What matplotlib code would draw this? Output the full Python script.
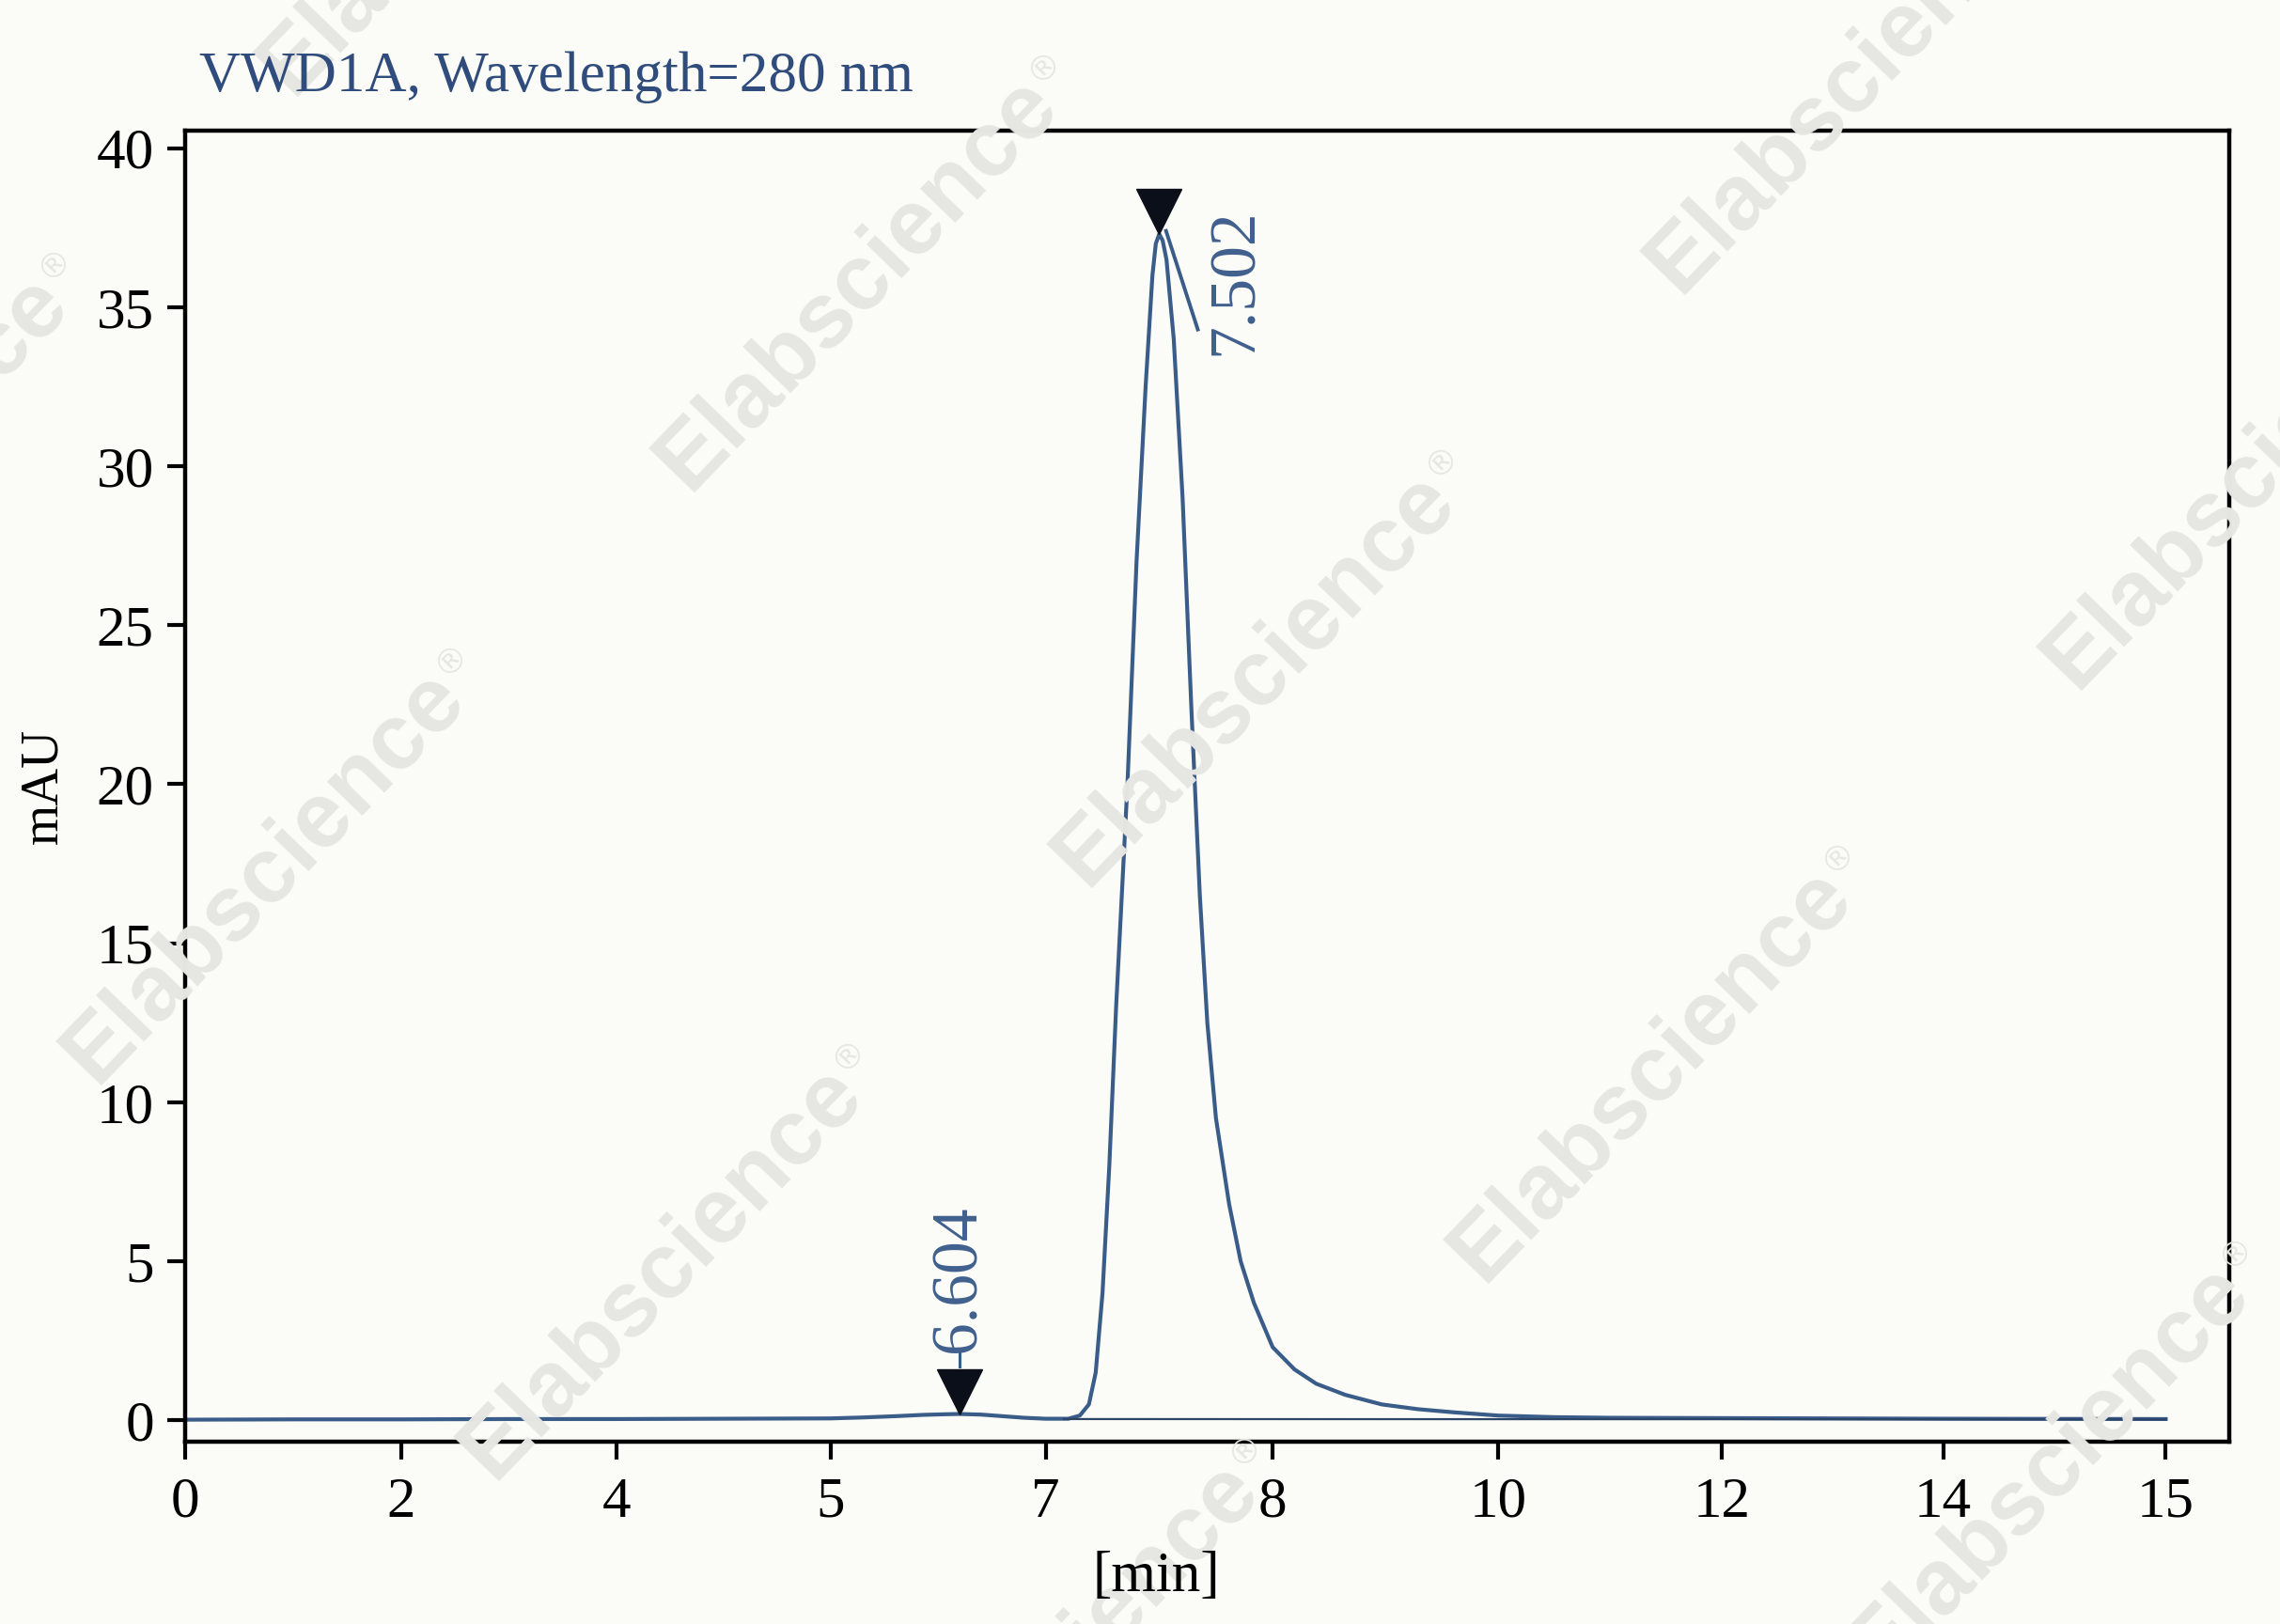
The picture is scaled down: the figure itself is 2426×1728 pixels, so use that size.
import numpy as np
import matplotlib.pyplot as plt
from matplotlib.transforms import ScaledTranslation, offset_copy

# chromatogram trace (time in the axis' own minute labels, mAU)
time = [0.0, 1.0, 2.0, 3.0, 4.0, 4.5, 5.0, 5.3, 5.6, 5.85, 6.05, 6.2, 6.4, 6.6,
        6.8, 7.0, 7.1, 7.15, 7.19, 7.22, 7.25, 7.28, 7.31, 7.36, 7.40, 7.44,
        7.47, 7.485, 7.50, 7.515, 7.532, 7.564, 7.603, 7.641, 7.679, 7.712,
        7.75, 7.808, 7.859, 7.917, 8.0, 8.194, 8.387, 8.645, 8.968, 9.29,
        9.613, 10.0, 10.5, 11.0, 12.0, 13.0, 14.0, 15.0]
mau = [0.02, 0.03, 0.03, 0.04, 0.04, 0.05, 0.06, 0.09, 0.13, 0.17, 0.19, 0.2,
       0.18, 0.13, 0.08, 0.05, 0.05, 0.15, 0.5, 1.5, 4.0, 8.0, 13.0, 20.0,
       27.0, 32.5, 36.0, 37.0, 37.3, 37.1, 36.5, 34.0, 29.0, 22.5, 16.5, 12.5,
       9.5, 6.8, 5.0, 3.7, 2.3, 1.6, 1.15, 0.8, 0.5, 0.35, 0.25, 0.15, 0.1,
       0.08, 0.07, 0.06, 0.05, 0.04]

# integration baseline under the main peak
base_time = [7.08, 15.0]
base_mau = [0.04, 0.03]

# peak markers and their labels
peak_time = [6.2, 7.5]
peak_mau = [0.2, 37.3]
peak_text = ["6.604", "7.502"]

# the axis labels are unevenly spaced on the original print
xtick_vals = [0, 2, 4, 5, 7, 8, 10, 12, 14, 15]
xtick_pos = [0, 1.641, 3.271, 4.890, 6.520, 8.238, 9.945, 11.64, 13.315, 15.0]
yticks = [0, 5, 10, 15, 20, 25, 30, 35, 40]

bg = "#fbfbf7"
line_c = "#3a5c89"
label_c = "#40608d"
title_c = "#2f4c7c"
wm_c = "#e6e6e2"

plt.rcParams["font.family"] = ["Liberation Serif", "DejaVu Serif"]

ext_v = np.array([-10] + xtick_vals + [25], dtype=float)
ext_p = np.array([-10 * 0.8205] + xtick_pos + [15 + 10 * 1.685])


def fwd(x):
    return np.interp(x, ext_v, ext_p)


def inv(p):
    return np.interp(p, ext_p, ext_v)


fig = plt.figure(figsize=(24.26, 17.28), dpi=100, facecolor=bg)

# watermark grid behind everything
base = np.array([590.0, 195.0])
v1 = np.array([273.0, 272.0])
v2 = np.array([-408.0, 408.0])
ang = np.deg2rad(46)
for i in range(-2, 5):
    for j in range(-2, 3):
        cx, cy = base + i * v1 + j * v2
        if -300 < cx < 1870 and -250 < cy < 1370:
            fx, fy = cx / 1568, 1 - cy / 1117
            fig.text(fx, fy, "Elabscience", fontsize=71, fontweight="bold",
                     family="Liberation Sans", color=wm_c, rotation=46,
                     ha="center", va="center", rotation_mode="anchor", zorder=0)
            dx = 305 * np.cos(ang) - 18 * np.sin(ang)
            dy = 305 * np.sin(ang) + 18 * np.cos(ang)
            tr = offset_copy(fig.transFigure, fig, x=dx, y=dy, units="dots")
            fig.text(fx, fy, "®", transform=tr, fontsize=26, family="DejaVu Sans",
                     color=wm_c, rotation=46, ha="center", va="center",
                     rotation_mode="anchor", zorder=0)

ax = fig.add_axes([0.081, 0.112, 0.8967, 0.8075])
ax.set_facecolor("none")
ax.set_xscale("function", functions=(fwd, inv))

ax.plot(time, mau, color=line_c, lw=3.0, solid_joinstyle="round")
ax.plot(base_time, base_mau, color="#2c4466", lw=1.6)

# triangles sit with their tip on the peak
ms = 34
up = ax.transData + ScaledTranslation(0, ms / 2 / 72, fig.dpi_scale_trans)
ax.plot(peak_time, peak_mau, "v", ms=ms, color="#0b0f1a", transform=up, zorder=5)

# small peak: label straight above the marker with a short stub
ax.plot([peak_time[0], peak_time[0]], [peak_mau[0] + 1.5, peak_mau[0] + 2.0],
        color=line_c, lw=2.2)
ax.text(peak_time[0], peak_mau[0] + 1.95, peak_text[0], rotation=90, ha="center",
        va="bottom", fontsize=50, color=label_c)

# main peak: leader line to the right and rotated label
ax.plot([peak_time[1] + 0.03, peak_time[1] + 0.17],
        [peak_mau[1] + 0.1, peak_mau[1] - 3.0], color=line_c, lw=2.8)
ax.text(peak_time[1] + 0.34, peak_mau[1] - 3.8, peak_text[1], rotation=90,
        ha="center", va="bottom", fontsize=50, color=label_c)

ax.set_xlim(0, 15.285)
ax.set_ylim(-0.685, 40.55)
ax.set_xticks(xtick_vals)
ax.set_xticklabels([str(v) for v in xtick_vals])
ax.xaxis.set_minor_locator(plt.NullLocator())
ax.set_yticks(yticks)
ax.set_yticklabels([str(v) for v in yticks])

for s in ax.spines.values():
    s.set_linewidth(3.2)
    s.set_color("black")
ax.tick_params(axis="both", direction="out", length=13.5, width=3.0,
               labelsize=44, colors="black")
ax.tick_params(axis="y", pad=10)
ax.tick_params(axis="x", pad=13)

fig.text(0.0874, 0.9436, "VWD1A, Wavelength=280 nm", fontsize=44,
         color=title_c, va="baseline", ha="left")
fig.text(0.019, 0.516, "mAU", rotation=90, ha="center", va="center", fontsize=40)
fig.text(0.507, 0.0286, "[min]", ha="center", va="center", fontsize=44)

fig.savefig("out.png", dpi=100, facecolor=bg)
